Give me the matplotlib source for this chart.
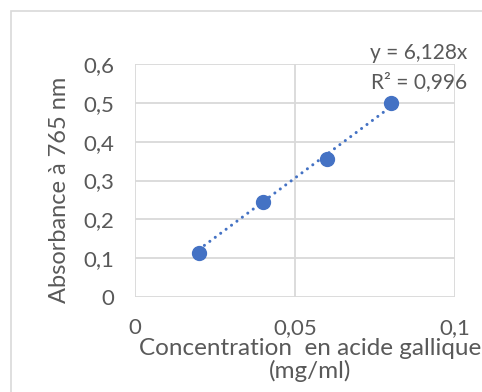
import numpy as np
import matplotlib
matplotlib.use('Agg')
from matplotlib import pyplot as plt
from matplotlib.patches import Rectangle
from matplotlib.ticker import FuncFormatter

plt.rcParams['font.family'] = ['Lato', 'DejaVu Sans']

# gallic acid calibration
conc = [0.02, 0.04, 0.06, 0.08]
absorb = [0.113, 0.244, 0.356, 0.500]
slope = 6.128
r2 = 0.996

xticks = [0, 0.05, 0.1]
yticks = [0, 0.1, 0.2, 0.3, 0.4, 0.5, 0.6]

grey = '#595959'
grid = '#d9d9d9'
blue = '#4472c4'

fig = plt.figure(figsize=(4.82, 3.92), dpi=100)
fig.patch.set_facecolor('white')
# chart area frame
fig.add_artist(Rectangle((11/482, -0.1), 1.2, (392-11)/392 + 0.1,
                         transform=fig.transFigure, fill=False,
                         edgecolor=grid, lw=1.2))

ax = fig.add_axes([135/482, 1-297/392, 320/482, 233/392])
ax.set_xlim(0, 0.1)
ax.set_ylim(0, 0.6)
ax.set_xticks(xticks)
ax.set_yticks(yticks)
fmt = FuncFormatter(lambda v, p: ('%g' % round(v, 3)).replace('.', ','))
ax.xaxis.set_major_formatter(fmt)
ax.yaxis.set_major_formatter(fmt)
for s in ax.spines.values():
    s.set_visible(False)
ax.grid(True, color=grid, lw=1.3)
ax.set_axisbelow(True)
ax.tick_params(length=0, labelsize=16, colors=grey)
ax.tick_params(axis='y', pad=15)
ax.tick_params(axis='x', pad=15)

# trendline through origin
xt = np.array([conc[0], conc[-1]])
ax.plot(xt, slope*xt, color=blue, lw=2.2, linestyle=(0, (0.01, 2.2)),
        dash_capstyle='round')
ax.plot(conc, absorb, 'o', color=blue, ms=10, zorder=3)

fig.text(60/482, 1-190/392, 'Absorbance à 765 nm', rotation=90,
         ha='center', va='center', fontsize=17, color=grey)
fig.text(310/482, 1-360/392, 'Concentration  en acide gallique\n(mg/ml)',
         ha='center', va='center', fontsize=17.5, color=grey, linespacing=1.1)

fig.text(467/482, 1-53/392, 'y = 6,128x', ha='right', va='center',
         fontsize=15, color=grey)
fig.text(467/482, 1-82/392, 'R² = 0,996', ha='right', va='center',
         fontsize=15, color=grey)

fig.savefig('out.png', dpi=100)
